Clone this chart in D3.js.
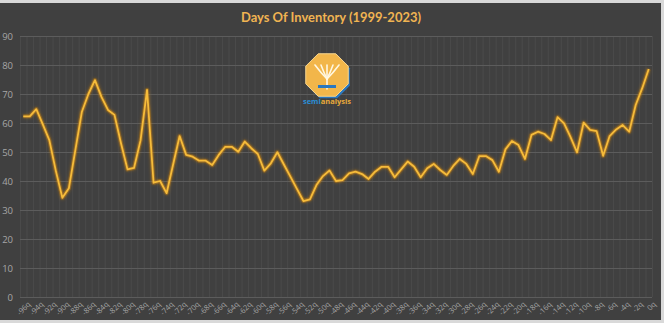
<!DOCTYPE html>
<html>
<head>
<meta charset="utf-8">
<script src="https://cdn.jsdelivr.net/npm/d3@7"></script>
<style>
html,body{margin:0;padding:0;background:#d9d9d9;}
svg{display:block;}
</style>
</head>
<body>
<svg id="chart" width="664" height="323"></svg>
<script>
const title = "Days Of Inventory (1999-2023)";
const categories = ["-96q","-95q","-94q","-93q","-92q","-91q","-90q","-89q","-88q","-87q","-86q","-85q","-84q","-83q","-82q","-81q","-80q","-79q","-78q","-77q","-76q","-75q","-74q","-73q","-72q","-71q","-70q","-69q","-68q","-67q","-66q","-65q","-64q","-63q","-62q","-61q","-60q","-59q","-58q","-57q","-56q","-55q","-54q","-53q","-52q","-51q","-50q","-49q","-48q","-47q","-46q","-45q","-44q","-43q","-42q","-41q","-40q","-39q","-38q","-37q","-36q","-35q","-34q","-33q","-32q","-31q","-30q","-29q","-28q","-27q","-26q","-25q","-24q","-23q","-22q","-21q","-20q","-19q","-18q","-17q","-16q","-15q","-14q","-13q","-12q","-11q","-10q","-9q","-8q","-7q","-6q","-5q","-4q","-3q","-2q","-1q","0q"];
const daysOfInventory = [62.3,62.3,64.8,59.5,54.1,43.5,34.2,37.5,50.7,63.9,70.0,74.8,69.0,64.5,62.8,53.0,44.0,44.5,54.0,71.4,39.4,40.0,35.8,45.7,55.5,49.0,48.4,47.0,47.0,45.5,49.0,51.8,51.8,50.1,53.6,51.3,49.3,43.6,46.1,49.9,45.7,41.5,37.3,33.1,33.7,38.6,41.7,43.6,40.0,40.3,42.6,43.2,42.4,40.7,43.2,44.9,44.9,41.3,44.0,46.7,44.9,41.3,44.4,45.9,43.8,42.1,45.2,47.6,45.9,42.4,48.6,48.6,47.2,43.2,50.9,53.8,52.4,47.6,55.9,57.0,56.2,54.1,62.0,59.9,55.1,49.9,60.1,57.6,57.2,48.7,55.5,57.8,59.3,57.0,66.2,72.0,78.6];
const tickLabels = categories.filter((d,i)=>i%2===0);
const yTicks = [0,10,20,30,40,50,60,70,80,90];

const svg = d3.select("#chart");
svg.append("rect").attr("x",0).attr("y",3).attr("width",661).attr("height",317).attr("fill","#404040");

const x = d3.scaleBand().domain(categories).range([20,652]).padding(0);
const y = d3.scaleLinear().domain([0,90]).range([297,36]);

const defs = svg.append("defs");
const f = defs.append("filter").attr("id","glow").attr("x","-10%").attr("y","-10%").attr("width","120%").attr("height","120%");
f.append("feGaussianBlur").attr("in","SourceGraphic").attr("stdDeviation",1.8).attr("result","b");
const m = f.append("feMerge");
m.append("feMergeNode").attr("in","b");
m.append("feMergeNode").attr("in","SourceGraphic");

const bounds = categories.map(c=>x(c)).concat([x.range()[1]]);
svg.append("g").selectAll("line").data(bounds).join("line")
  .attr("x1",d=>d+0.5).attr("x2",d=>d+0.5).attr("y1",36).attr("y2",297)
  .attr("stroke","#4a4a4a").attr("stroke-width",1);

svg.append("g").selectAll("line").data(yTicks).join("line")
  .attr("x1",20).attr("x2",652).attr("y1",d=>Math.round(y(d))+0.5).attr("y2",d=>Math.round(y(d))+0.5)
  .attr("stroke","#5c5c5c").attr("stroke-width",1);

const yAxis = d3.axisLeft(y).tickValues(yTicks).tickSize(0).tickPadding(0);
const gy = svg.append("g").attr("transform","translate(13,0)").call(yAxis);
gy.select(".domain").remove();
gy.selectAll("text").attr("fill","#a6a6a6").attr("font-size","9.5px").attr("font-family","'Open Sans', sans-serif");

const xAxis = d3.axisBottom(x).tickValues(tickLabels).tickSize(0).tickPadding(0);
const gx = svg.append("g").attr("transform","translate(0,299)").call(xAxis);
gx.select(".domain").remove();
gx.selectAll("text")
  .attr("fill","#a6a6a6").attr("font-size","7.5px").attr("font-family","'Open Sans', sans-serif")
  .attr("text-anchor","end").attr("dy","0.7em").attr("dx","0")
  .attr("transform","translate(4,2) rotate(-45)");

const line = d3.line().x((d,i)=>x(categories[i])+x.bandwidth()/2).y(d=>y(d));
svg.append("path").datum(daysOfInventory).attr("d",line)
  .attr("fill","none").attr("stroke","#d98a10").attr("stroke-width",4).attr("stroke-opacity",0.35)
  .attr("filter","url(#glow)").attr("stroke-linejoin","round");
svg.append("path").datum(daysOfInventory).attr("d",line)
  .attr("fill","none").attr("stroke","#f6bc3a").attr("stroke-width",1.8).attr("stroke-linejoin","round");

svg.append("text").attr("x",331).attr("y",22).attr("text-anchor","middle")
  .attr("font-family","Lato, 'Open Sans', sans-serif").attr("font-weight","bold").attr("font-size","14px")
  .attr("fill","#f0b452").attr("textLength",180).attr("lengthAdjust","spacingAndGlyphs").text(title);

const lg = svg.append("g").attr("transform","translate(327,75)");
const oct = r => d3.range(8).map(k=>{const a=Math.PI/8+k*Math.PI/4;return [r*Math.cos(a),r*Math.sin(a)];});
lg.append("polygon").attr("points",oct(23).map(p=>[p[0]+1.5,p[1]+2].join(",")).join(" ")).attr("fill","#2a78c0");
lg.append("polygon").attr("points",oct(23).map(p=>p.join(",")).join(" ")).attr("fill","#f2b64a").attr("stroke","#f7d58e").attr("stroke-width",1);
const tree = lg.append("g").attr("stroke","#fff7e0").attr("stroke-width",1.6).attr("fill","none").attr("stroke-linecap","round");
tree.append("line").attr("x1",0).attr("y1",14).attr("x2",0).attr("y2",-10);
[-12,-6,6,12].forEach(dx=>tree.append("path").attr("d",`M0,${4}Q${dx*0.5},-2 ${dx},-10`));
tree.append("rect").attr("x",-9).attr("y",10).attr("width",18).attr("height",3).attr("fill","#2a78c0").attr("stroke","none");
const lt = svg.append("text").attr("x",327).attr("y",104).attr("text-anchor","middle")
  .attr("font-family","'Open Sans', sans-serif").attr("font-size","7.5px").attr("font-weight","bold");
lt.append("tspan").attr("fill","#2a8fd6").text("semi");
lt.append("tspan").attr("fill","#e8a93a").text("analysis");
</script>
</body>
</html>
